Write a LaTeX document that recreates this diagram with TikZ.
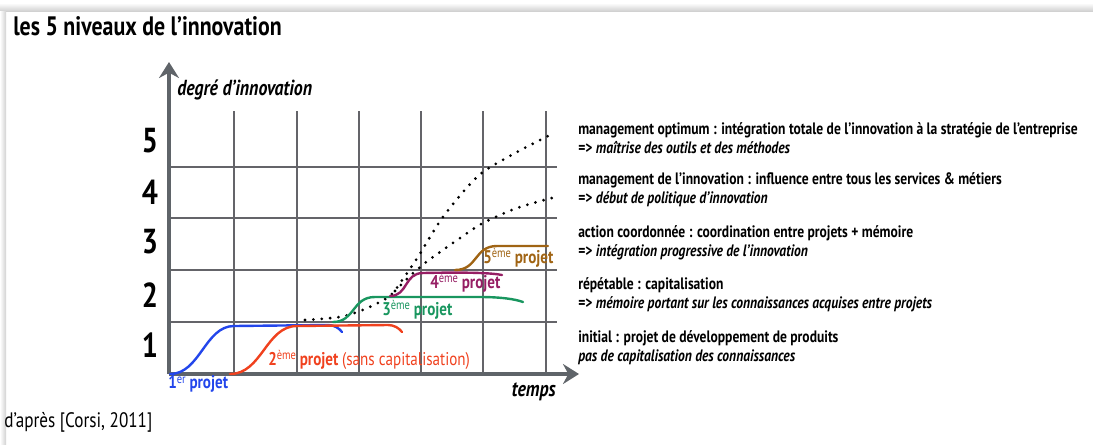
\documentclass[tikz,border=0pt]{standalone}
\usepackage{fontspec}
\setmainfont[FakeStretch=0.82]{PT Sans}
\usepackage{tikz}
\usetikzlibrary{arrows.meta}
\definecolor{pblue}{RGB}{35,70,235}
\definecolor{pred}{RGB}{240,65,30}
\definecolor{pgreen}{RGB}{25,150,95}
\definecolor{ppurple}{RGB}{150,30,100}
\definecolor{pbrown}{RGB}{160,100,20}
\definecolor{axisgray}{RGB}{95,100,105}
\definecolor{gridgray}{RGB}{100,100,105}
\newcommand{\sups}[1]{\raisebox{0.3em}{\mdseries\fontsize{9.6}{10}\selectfont #1}}

\begin{document}
\begin{tikzpicture}[x=0.75pt,y=-0.75pt,
  gridline/.style={gridgray, line width=1pt},
  axisline/.style={axisgray, line width=2.4pt, -{Stealth[length=12pt,width=15pt,inset=4pt]}},
  curve/.style={line width=1.8pt, line cap=round},
  dots/.style={line width=2.3pt, line cap=round, dash pattern=on 0pt off 6.3pt},
  level/.style={anchor=west, align=left, inner sep=0pt, font=\fontsize{12.4}{14.3}\selectfont\bfseries},
  num/.style={font=\fontsize{26}{26}\selectfont\bfseries},
  axlabel/.style={inner sep=0pt, font=\fontsize{16.3}{17}\selectfont\bfseries\itshape},
  plabel/.style={inner sep=0pt, font=\fontsize{13.8}{14}\selectfont\bfseries}]
  \useasboundingbox (0,0) rectangle (1093,444);
  % frame shadow
  \shade[top color=white, bottom color=black!18] (0,3) rectangle (1093,11);
  \shade[left color=white, right color=black!18] (0,11) rectangle (6,444);
  % title
  \node[anchor=base west, inner sep=0pt, font=\fontsize{20}{20}\selectfont\bfseries] (title) at (13,35) {les 5 niveaux de l’innovation};
  % grid
  \foreach \x in {234,297,359,421,483,546}
    \draw[gridline] (\x,111) -- (\x,374);
  \foreach \y in {167,218,270,322}
    \draw[gridline] (169,\y) -- (557,\y);
  % axes
  \coordinate (O) at (169,374);
  \coordinate (ytop) at (169,62);
  \coordinate (xend) at (579,374);
  \draw[axisline] (O) -- (ytop);
  \draw[axisline] (O) -- (xend);
  \node[axlabel, anchor=west] (ylab) at (177,90) {degré d’innovation};
  \node[axlabel, anchor=east] (xlab) at (556,392) {temps};
  % level numbers
  \node[num] (n5) at (150,141) {5};
  \node[num] (n4) at (150,192) {4};
  \node[num] (n3) at (150,242) {3};
  \node[num] (n2) at (150,295) {2};
  \node[num] (n1) at (150,345) {1};
  % dotted trends
  \draw[dots] plot[smooth] coordinates {(305,320) (340,317) (360,311) (378,303) (392,294) (405,276) (418,257) (430,237) (443,217) (463,192) (483,172) (517,152) (552,134)};
  \draw[dots] plot[smooth] coordinates {(395,291) (410,276) (425,263) (440,252) (463,236) (483,223) (517,208) (552,198)};
  % project curves
  \draw[curve, pblue] (170,374) .. controls (200,374) and (205,326) .. (234,326) -- (328,325) .. controls (334,325) and (339,328) .. (342,332);
  \draw[curve, pred] (230,374) .. controls (262,374) and (266,326) .. (297,326) -- (388,325) .. controls (394,325) and (399,328) .. (402,332);
  \draw[curve, pgreen] (333,322) .. controls (355,322) and (352,297) .. (375,297) -- (480,297) .. controls (500,297) and (515,299) .. (523,302);
  \draw[curve, ppurple] (390,296) .. controls (408,296) and (404,273) .. (423,273) .. controls (470,272) and (492,273) .. (502,275);
  \draw[curve, pbrown] (455,270) .. controls (478,270) and (474,246) .. (497,246) -- (548,246);
  \node[plabel, pblue, anchor=west] (p1) at (168,384) {1\sups{er} projet};
  \node[plabel, pred, anchor=west] (p2) at (268,360) {2\sups{ème} projet \mdseries(sans capitalisation)};
  \node[plabel, pgreen, anchor=west] (p3) at (382,310) {3\sups{ème} projet};
  \node[plabel, ppurple, anchor=west] (p4) at (430,283) {4\sups{ème} projet};
  \node[plabel, pbrown, anchor=west] (p5) at (483,258) {5\sups{ème} projet};
  % level descriptions
  \node[level] (l5) at (578,138) {management optimum : intégration totale de l’innovation à la stratégie de l’entreprise\\=> \itshape maîtrise des outils et des méthodes};
  \node[level] (l4) at (578,190) {management de l’innovation : influence entre tous les services \& métiers\\=> \itshape début de politique d’innovation};
  \node[level] (l3) at (578,243) {action coordonnée : coordination entre projets + mémoire\\=> \itshape intégration progressive de l’innovation};
  \node[level] (l2) at (578,295) {répétable : capitalisation\\=> \itshape mémoire portant sur les connaissances acquises entre projets};
  \node[level] (l1) at (578,348) {initial : projet de développement de produits\\\itshape pas de capitalisation des connaissances};
  % source
  \node[anchor=base west, inner sep=0pt, font=\fontsize{15.7}{16}\selectfont] (src) at (4,427) {d’après [Corsi, 2011]};
\end{tikzpicture}
\end{document}
